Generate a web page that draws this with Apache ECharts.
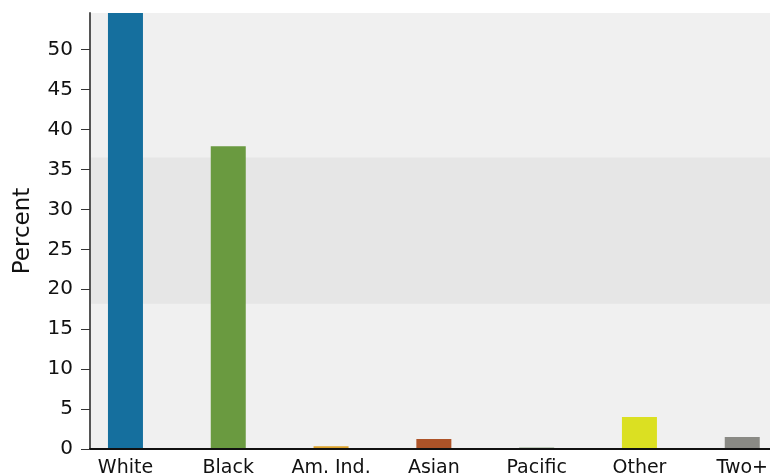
<!DOCTYPE html>
<html>
<head>
<meta charset="utf-8">
<script src="https://cdn.jsdelivr.net/npm/echarts@6/dist/echarts.min.js"></script>
<style>html,body{margin:0;padding:0;background:#fff}#c{width:770px;height:476px}</style>
</head>
<body>
<div id="c"></div>
<script>
var categories = ['White', 'Black', 'Am. Ind.', 'Asian', 'Pacific', 'Other', 'Two+'];
var values = [56, 37.9, 0.35, 1.25, 0.15, 4.0, 1.5];
var colors = ['#156f9e', '#6a9a40', '#dca22a', '#ad5328', '#2d5a1e', '#dbe022', '#8a8a85'];
var yTicks = [0, 5, 10, 15, 20, 25, 30, 35, 40, 45, 50];
var band = [18.2, 36.5];

var chart = echarts.init(document.getElementById('c'));
var data = values.map(function (v, i) {
  return { value: [i, v], itemStyle: { color: colors[i] } };
});
chart.setOption({
  animation: false,
  textStyle: { fontFamily: 'DejaVu Sans' },
  grid: { left: 90, right: 0, top: 13, bottom: 27, outerBoundsMode: 'none', containLabel: false, show: true, backgroundColor: '#f0f0f0', borderWidth: 0 },
  xAxis: {
    type: 'value',
    zlevel: 1,
    z: 10,
    min: -0.345,
    max: 6.27,
    splitLine: { show: false },
    axisTick: { show: false },
    axisLine: { show: true, onZero: false, lineStyle: { color: '#111', width: 2 } },
    axisLabel: {
      customValues: [0, 1, 2, 3, 4, 5, 6],
      formatter: function (v) { return categories[Math.round(v)]; },
      color: '#111', fontSize: 19, margin: 10, fontFamily: 'DejaVu Sans'
    }
  },
  yAxis: {
    type: 'value',
    zlevel: 1,
    z: 10,
    min: 0,
    max: 54.6,
    name: 'Percent',
    nameLocation: 'middle',
    nameGap: 55,
    nameTextStyle: { color: '#111', fontSize: 23, fontFamily: 'DejaVu Sans' },
    splitLine: { show: false },
    axisLine: { show: true, onZero: false, lineStyle: { color: '#555', width: 2 } },
    axisTick: { show: true, inside: false, length: 9, customValues: yTicks, lineStyle: { color: '#333', width: 1 } },
    axisLabel: { customValues: yTicks, color: '#111', fontSize: 20, margin: 17, fontFamily: 'DejaVu Sans' }
  },
  series: [{
    type: 'bar',
    data: data,
    barWidth: 35,
    markArea: {
      silent: true,
      z: 0,
      itemStyle: { color: '#e6e6e6' },
      data: [[{ yAxis: band[0] }, { yAxis: band[1] }]]
    }
  }]
});
</script>
</body>
</html>
